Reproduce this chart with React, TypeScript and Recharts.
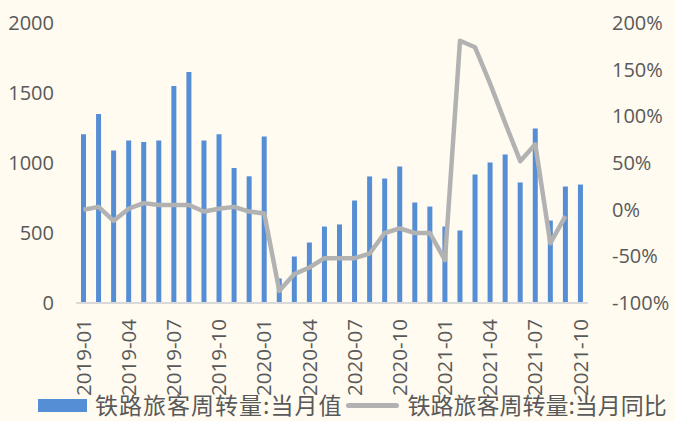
import React from 'react';
import { ComposedChart, Bar, Line, XAxis, YAxis, Legend } from 'recharts';

// months shown on the category axis
const months = [
  '2019-01', '2019-02', '2019-03', '2019-04', '2019-05', '2019-06',
  '2019-07', '2019-08', '2019-09', '2019-10', '2019-11', '2019-12',
  '2020-01', '2020-02', '2020-03', '2020-04', '2020-05', '2020-06',
  '2020-07', '2020-08', '2020-09', '2020-10', '2020-11', '2020-12',
  '2021-01', '2021-02', '2021-03', '2021-04', '2021-05', '2021-06',
  '2021-07', '2021-08', '2021-09', '2021-10',
];

// 铁路旅客周转量:当月值
const monthlyValue = [
  1205, 1350, 1090, 1160, 1150, 1160,
  1550, 1650, 1160, 1205, 965, 905,
  1190, 175, 332, 432, 546, 561,
  732, 904, 889, 975, 718, 689,
  546, 518, 918, 1004, 1061, 861,
  1246, 589, 832, 846,
];

// 铁路旅客周转量:当月同比 (%)
const yoyPercent: (number | null)[] = [
  0, 3, -12, 1, 7, 5,
  5, 5, -2, 1, 3, -2,
  -4, -87, -69, -62, -52, -52,
  -52, -47, -25, -20, -25, -25,
  -54, 181, 174, 135, 93, 52,
  70, -36, -7, null,
];

const leftTicks = [0, 500, 1000, 1500, 2000];
const rightTicks = [-100, -50, 0, 50, 100, 150, 200];

const BAR_COLOR = '#558ED5';
const LINE_COLOR = '#B2B2B2';
const TEXT_COLOR = '#595959';
const NUM_FONT = '"Open Sans", sans-serif';
const CJK_FONT = '"Noto Sans CJK SC", sans-serif';

const data = months.map((m, i) => ({
  month: m,
  value: monthlyValue[i],
  yoy: yoyPercent[i],
}));

const MonthTick = ({ x, y, payload }: any) => (
  <text
    x={x}
    y={y}
    dy="0.35em"
    textAnchor="end"
    transform={`rotate(-90, ${x}, ${y})`}
    fill={TEXT_COLOR}
    fontSize={20.5}
    fontFamily={NUM_FONT}
  >
    {payload.value}
  </text>
);

const ChartLegend = () => (
  <div
    style={{
      height: 26,
      display: 'flex',
      alignItems: 'center',
      paddingLeft: 38,
      whiteSpace: 'nowrap',
      fontFamily: CJK_FONT,
      fontSize: 23,
      color: TEXT_COLOR,
      lineHeight: '26px',
    }}
  >
    <div style={{ width: 49, height: 13, backgroundColor: BAR_COLOR, marginRight: 8, marginTop: 3 }} />
    <span style={{ letterSpacing: 1 }}>铁路旅客周转量:当月值</span>
    <div
      style={{
        width: 53,
        height: 5,
        borderRadius: 3,
        backgroundColor: LINE_COLOR,
        marginLeft: 4,
        marginRight: 8,
        marginTop: 3,
      }}
    />
    <span>铁路旅客周转量:当月同比</span>
  </div>
);

const App: React.FC = () => {
  return (
    <div
      style={{
        position: 'absolute',
        left: 0,
        top: 0,
        width: 675,
        height: 421,
        backgroundColor: '#FFFBF0',
        overflow: 'hidden',
      }}
    >
      <ComposedChart
        width={675}
        height={421}
        data={data}
        margin={{ top: 23, right: 0, bottom: 0, left: 0 }}
      >
        <XAxis
          dataKey="month"
          interval={2}
          height={92}
          tickLine={false}
          tickSize={0}
          tickMargin={16}
          axisLine={{ stroke: '#D9D9D9', strokeWidth: 2 }}
          tick={<MonthTick />}
        />
        <YAxis
          yAxisId="left"
          domain={[0, 2000]}
          ticks={leftTicks}
          width={76}
          axisLine={false}
          tickLine={false}
          tickSize={0}
          tickMargin={22}
          tick={{ fill: TEXT_COLOR, fontSize: 20, fontFamily: NUM_FONT }}
        />
        <YAxis
          yAxisId="right"
          orientation="right"
          domain={[-100, 200]}
          ticks={rightTicks}
          width={87}
          axisLine={false}
          tickLine={false}
          tickSize={0}
          tickMargin={24}
          tickFormatter={(v: number) => `${v}%`}
          tick={{ fill: TEXT_COLOR, fontSize: 20, fontFamily: NUM_FONT, textAnchor: 'start' }}
        />
        <Legend
          verticalAlign="bottom"
          content={<ChartLegend />}
          wrapperStyle={{ left: 0, bottom: 4, width: 675, height: 26 }}
        />
        <Bar
          yAxisId="left"
          dataKey="value"
          name="铁路旅客周转量:当月值"
          fill={BAR_COLOR}
          barSize={5}
          isAnimationActive={false}
        />
        <Line
          yAxisId="right"
          dataKey="yoy"
          name="铁路旅客周转量:当月同比"
          type="linear"
          stroke={LINE_COLOR}
          strokeWidth={4.5}
          strokeLinejoin="round"
          dot={false}
          activeDot={false}
          connectNulls={false}
          isAnimationActive={false}
        />
      </ComposedChart>
    </div>
  );
};

export default App;
